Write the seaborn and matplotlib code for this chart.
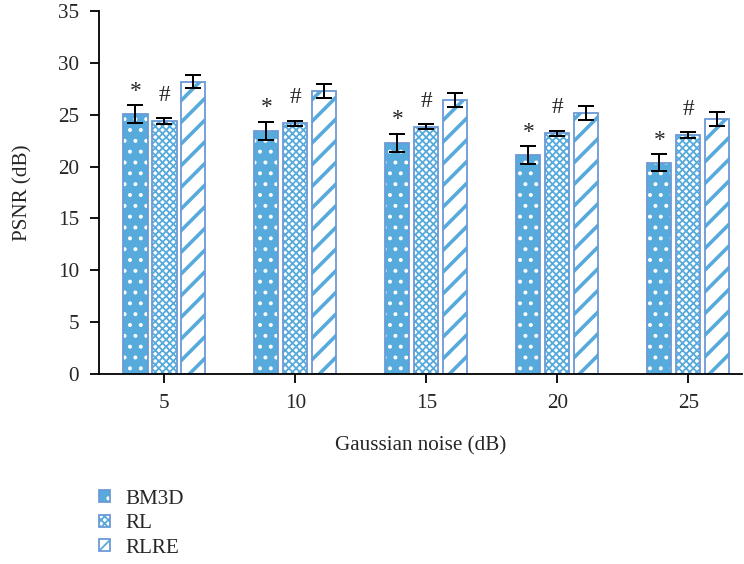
import numpy as np
import pandas as pd
import matplotlib
matplotlib.use("Agg")
import matplotlib.pyplot as plt
import seaborn as sns

noise_levels = ["5", "10", "15", "20", "25"]
methods = ["BM3D", "RL", "RLRE"]
bm3d_mean = [25.07, 23.46, 22.3, 21.12, 20.38]
bm3d_err = [0.85, 0.85, 0.87, 0.85, 0.8]
rl_mean = [24.4, 24.17, 23.86, 23.2, 23.05]
rl_err = [0.25, 0.25, 0.2, 0.25, 0.25]
rlre_mean = [28.2, 27.29, 26.4, 25.2, 24.59]
rlre_err = [0.65, 0.67, 0.68, 0.67, 0.65]
y_ticks = [0, 5, 10, 15, 20, 25, 30, 35]

means = {"BM3D": bm3d_mean, "RL": rl_mean, "RLRE": rlre_mean}
errs = {"BM3D": bm3d_err, "RL": rl_err, "RLRE": rlre_err}

rows = []
for m in methods:
    for n, v in zip(noise_levels, means[m]):
        rows.append({"noise": n, "method": m, "psnr": v})
df = pd.DataFrame(rows)

sns.set_style("ticks")
plt.rcParams["font.family"] = ["Liberation Serif", "DejaVu Serif"]
plt.rcParams["hatch.linewidth"] = 1.0

BLUE = "#57AADC"
EDGE = "#6C9BD6"
FS = 11.7
DPI = 130
fig = plt.figure(figsize=(744 / DPI, 564 / DPI), dpi=DPI)
ax = fig.add_axes([99 / 744, 190 / 564, 643 / 744, 363 / 564])

sns.barplot(data=df, x="noise", y="psnr", hue="method", order=noise_levels,
            hue_order=methods, width=0.664, gap=0.17, errorbar=None,
            legend=False, ax=ax)

styles = {
    "BM3D": dict(face=BLUE, hatch="..", hcolor="white", hlw=1.0),
    "RL": dict(face="white", hatch="xxxxxx", hcolor=BLUE, hlw=1.0),
    "RLRE": dict(face="white", hatch="//", hcolor=BLUE, hlw=2.0),
}

handles = []
for i, m in enumerate(methods):
    st = styles[m]
    cont = ax.containers[i]
    for p in cont.patches:
        p.set_facecolor(st["face"])
        p.set_edgecolor(EDGE)
        p.set_linewidth(1.0)
        p.set_hatch(st["hatch"])
        p._hatch_color = matplotlib.colors.to_rgba(st["hcolor"])
        if hasattr(p, "set_hatch_linewidth"):
            p.set_hatch_linewidth(st["hlw"])
    xs = [p.get_x() + p.get_width() / 2 for p in cont.patches]
    ax.errorbar(xs, means[m], yerr=errs[m], fmt="none", ecolor="black",
                elinewidth=1.1, capsize=4.5, capthick=1.1, zorder=5)
    handles.append(cont.patches[0])
    if m == "BM3D":
        for x, v, e in zip(xs, means[m], errs[m]):
            ax.text(x, v + e + 0.35, "*", ha="center", va="bottom", fontsize=13)
    if m == "RL":
        for x, v, e in zip(xs, means[m], errs[m]):
            ax.text(x, v + e + 1.2, "#", ha="center", va="bottom", fontsize=13)

ax.set_ylim(0, 35)
ax.set_yticks(y_ticks)
ax.set_xlim(-0.5, 4.41)
ax.set_xlabel("Gaussian noise (dB)", fontsize=FS, labelpad=13)
ax.set_ylabel("PSNR (dB)", fontsize=FS, labelpad=14)
ax.tick_params(axis="both", labelsize=FS, length=5, width=1.0, color="black",
               direction="out", pad=6)
for s in ["top", "right"]:
    ax.spines[s].set_visible(False)
for s in ["left", "bottom"]:
    ax.spines[s].set_color("black")
    ax.spines[s].set_linewidth(1.0)

fig.legend(handles, methods, loc="upper left", bbox_to_anchor=(0.1335, 0.132),
           frameon=False, fontsize=FS, handlelength=0.5, handleheight=0.5,
           labelspacing=0.26, handletextpad=0.75, borderaxespad=0,
           borderpad=0)

fig.savefig("out.png", dpi=DPI)
